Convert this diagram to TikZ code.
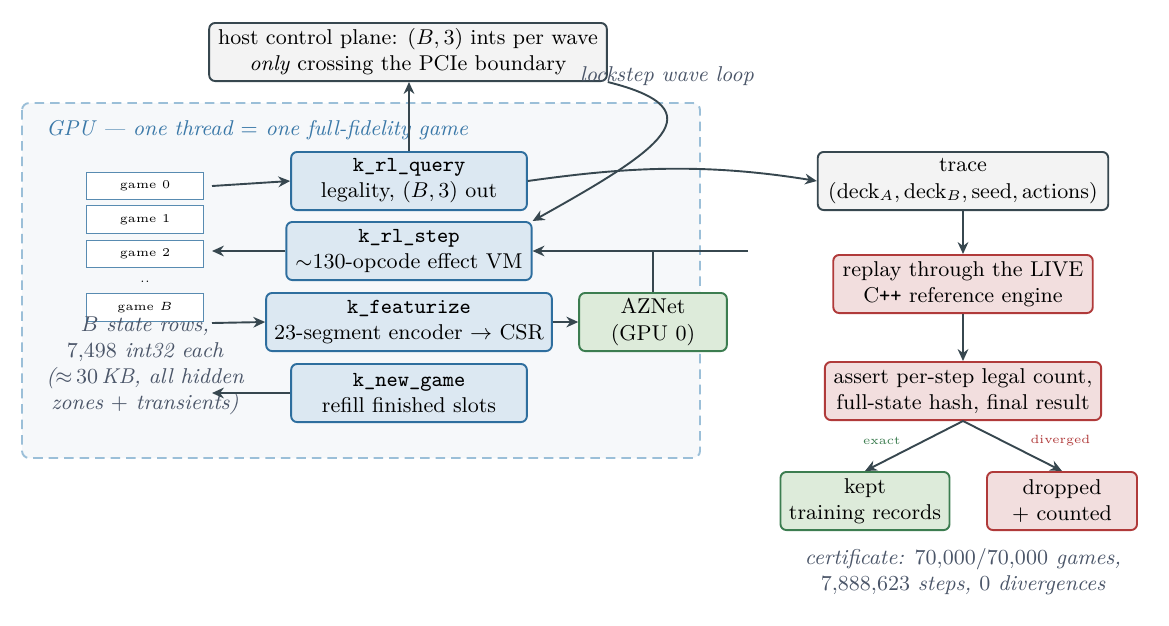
\documentclass[tikz,border=0pt]{standalone}
\usetikzlibrary{arrows.meta}
\definecolor{ink}{HTML}{37474F}
\definecolor{bfill}{HTML}{DCE8F2}\definecolor{bdraw}{HTML}{2E6E9E}
\definecolor{gfill}{HTML}{F3F3F3}
\definecolor{rfill}{HTML}{F2DEDE}\definecolor{rdraw}{HTML}{B03A3A}
\definecolor{grfill}{HTML}{DDEBDA}\definecolor{grdraw}{HTML}{3C7D50}
\definecolor{gpubg}{HTML}{F6F8FA}\definecolor{gpuline}{HTML}{9BBFD8}
\definecolor{gputext}{HTML}{3A78A8}\definecolor{note}{HTML}{4A5568}
\tikzset{
 box/.style={rounded corners=2.5pt,line width=0.8pt,align=center,inner sep=1pt,font=\small},
 kbox/.style={box,fill=bfill,draw=bdraw,minimum height=24.4pt},
 gbox/.style={box,fill=gfill,draw=ink,minimum height=24.4pt},
 rbox/.style={box,fill=rfill,draw=rdraw,minimum height=24.4pt},
 grbox/.style={box,fill=grfill,draw=grdraw,minimum height=24.4pt},
 game/.style={draw=bdraw!80,fill=white,line width=0.4pt,minimum width=49pt,minimum height=11.6pt,inner sep=0pt,font=\tiny},
 arr/.style={draw=ink,line width=0.8pt,-{Stealth[length=5pt,width=4.5pt]}},
 ln/.style={draw=ink,line width=0.8pt},
 notes/.style={font=\small\itshape,text=note,align=center}
}
\begin{document}
\begin{tikzpicture}[x=0.42pt,y=-0.42pt]
\useasboundingbox (0,0) rectangle (1169,625);
\draw[gpuline,fill=gpubg,line width=0.8pt,dash pattern=on 4pt off 2.5pt,rounded corners=3pt] (22,103) rectangle (700,458);
\node[anchor=west,font=\small\itshape,text=gputext] (gpulab) at (38,130) {GPU --- one thread $=$ one full-fidelity game};

\node[gbox,minimum width=167pt] (host) at (408,52) {host control plane: $(B,3)$ ints per wave\\\textit{only} crossing the PCIe boundary};
\node[notes] (lock) at (667,76) {lockstep wave loop};

\node[game] (g0) at (145,186) {game 0};
\node[game] (g1) at (145,219.5) {game 1};
\node[game] (g2) at (145,254) {game 2};
\node[font=\tiny,inner sep=0pt] (dots) at (145,282) {.\\[-3pt].};
\node[game] (gB) at (145,307.5) {game $B$};
\node[notes] (rows) at (145,366) {$B$ state rows,\\\textup{7,498} int32 each\\($\approx$\,\textup{30}\,KB, all hidden\\zones $+$ transients)};

\node[kbox,minimum width=99pt] (q) at (409,181) {\texttt{k\_rl\_query}\\legality, $(B,3)$ out};
\node[kbox,minimum width=103pt] (s) at (409,251) {\texttt{k\_rl\_step}\\$\sim$130-opcode effect VM};
\node[kbox,minimum width=120pt] (f) at (409,322) {\texttt{k\_featurize}\\23-segment encoder $\rightarrow$ CSR};
\node[grbox,minimum width=62pt] (az) at (653,322) {AZNet\\(GPU 0)};
\node[kbox,minimum width=99pt] (n) at (409,393) {\texttt{k\_new\_game}\\refill finished slots};

\node[gbox,minimum width=122pt] (tr) at (963,181) {trace\\$(\mathrm{deck}_A,\mathrm{deck}_B,\mathrm{seed},\mathrm{actions})$};
\node[rbox,minimum width=109pt] (rp) at (963,284) {replay through the LIVE\\C\texttt{++} reference engine};
\node[rbox,minimum width=116pt] (as) at (963,391) {assert per-step legal count,\\full-state hash, final result};
\node[grbox,minimum width=71pt] (kp) at (865,501) {kept\\training records};
\node[rbox,minimum width=63pt] (dr) at (1062,501) {dropped\\$+$ counted};
\node[notes] (cert) at (963,572) {certificate: \textup{70,000/70,000} games,\\\textup{7,888,623} steps, \textup{0} divergences};

\coordinate (g0e) at (212,186);
\coordinate (g2e) at (212,251);
\coordinate (gBe) at (212,323);
\coordinate (ne) at (212,393);
\coordinate (azin) at (748,251);
\coordinate (azj) at (653,251);

\draw[arr] (q.north) -- (host.south -| q.north);
\draw[arr] (g0e) -- (q.west);
\draw[arr] (s.west) -- (g2e);
\draw[arr] (gBe) -- (f.west);
\draw[arr] (f.east) -- (az.west);
\draw[ln] (az.north) -- (azj);
\draw[arr] (azin) -- (s.east);
\draw[arr] (n.west) -- (ne);
\draw[arr] (host.south east) .. controls (720,110) and (660,150) .. (s.north east);
\draw[arr] (q.east) .. controls (620,168) and (700,162) .. (tr.west);
\draw[arr] (tr) -- (rp);
\draw[arr] (rp) -- (as);
\draw[arr] (as.south) -- node[pos=0.4,left=6pt,font=\tiny,text=grdraw] {exact} (kp.north);
\draw[arr] (as.south) -- node[pos=0.4,right=8pt,font=\tiny,text=rdraw] {diverged} (dr.north);
\end{tikzpicture}
\end{document}
